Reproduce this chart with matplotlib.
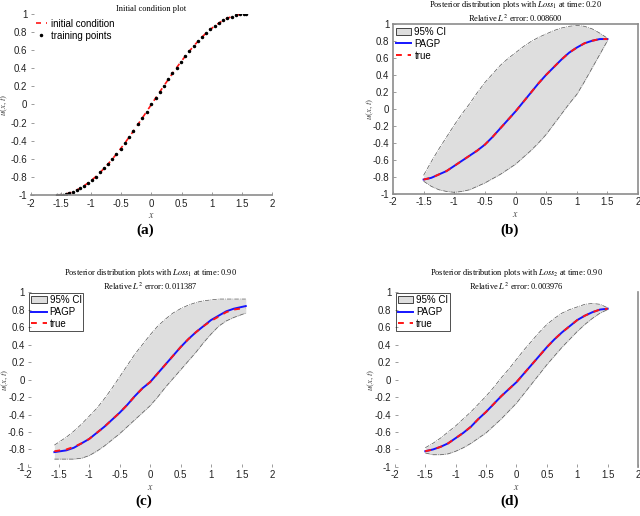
import matplotlib
matplotlib.use("Agg")
import matplotlib.pyplot as plt
from matplotlib.patches import Patch
from matplotlib.lines import Line2D
from matplotlib.ticker import MultipleLocator, FuncFormatter

plt.rcParams['font.family'] = ['Liberation Sans', 'DejaVu Sans']
plt.rcParams['mathtext.fontset'] = 'stix'

# (a) initial condition and training points
x_init = [-1.57, -1.52, -1.47, -1.42, -1.36, -1.30, -1.24, -1.18, -1.12, -1.05,
          -0.98, -0.92, -0.85, -0.78, -0.72, -0.65, -0.58, -0.51, -0.44, -0.37,
          -0.30, -0.22, -0.15, -0.08, 0.00, 0.07, 0.14, 0.21, 0.28, 0.35,
          0.42, 0.49, 0.56, 0.63, 0.70, 0.77, 0.84, 0.91, 0.98, 1.05,
          1.12, 1.19, 1.26, 1.33, 1.40, 1.47, 1.53, 1.57]
u_init = [-1.000, -0.999, -0.995, -0.989, -0.978, -0.964, -0.946, -0.925, -0.900, -0.867,
          -0.830, -0.796, -0.751, -0.703, -0.659, -0.605, -0.548, -0.488, -0.426, -0.362,
          -0.296, -0.218, -0.149, -0.080, 0.000, 0.070, 0.140, 0.208, 0.276, 0.343,
          0.408, 0.471, 0.531, 0.589, 0.644, 0.696, 0.745, 0.790, 0.830, 0.867,
          0.900, 0.928, 0.952, 0.971, 0.985, 0.995, 0.999, 1.000]

# (b) Loss_1, t = 0.20
x_b = [-1.5, -1.375, -1.25, -1.125, -1.0, -0.875, -0.75, -0.625, -0.5, -0.375, -0.25, -0.125,
       0.0, 0.125, 0.25, 0.375, 0.5, 0.625, 0.75, 0.875, 1.0, 1.125, 1.25, 1.375, 1.5]
mean_b = [-0.83, -0.81, -0.77, -0.73, -0.67, -0.61, -0.55, -0.49, -0.42, -0.33, -0.23, -0.13,
          -0.03, 0.08, 0.19, 0.30, 0.40, 0.49, 0.58, 0.66, 0.72, 0.77, 0.80, 0.82, 0.82]
upper_b = [-0.78, -0.62, -0.47, -0.33, -0.19, -0.06, 0.06, 0.19, 0.31, 0.41, 0.51, 0.59,
           0.66, 0.73, 0.79, 0.84, 0.88, 0.92, 0.95, 0.97, 0.98, 0.97, 0.94, 0.89, 0.83]
lower_b = [-0.85, -0.91, -0.95, -0.97, -0.98, -0.97, -0.95, -0.91, -0.87, -0.82, -0.77, -0.71,
           -0.65, -0.57, -0.49, -0.40, -0.30, -0.18, -0.06, 0.06, 0.17, 0.32, 0.48, 0.64, 0.80]

# (c) Loss_1, t = 0.90
x_c = [-1.57, -1.375, -1.25, -1.125, -1.0, -0.875, -0.75, -0.625, -0.5, -0.375, -0.25, -0.125,
       0.0, 0.125, 0.25, 0.375, 0.5, 0.625, 0.75, 0.875, 1.0, 1.125, 1.25, 1.375, 1.57]
mean_c = [-0.83, -0.81, -0.78, -0.73, -0.68, -0.61, -0.54, -0.46, -0.38, -0.29, -0.19, -0.10,
          -0.03, 0.07, 0.17, 0.27, 0.37, 0.46, 0.54, 0.61, 0.68, 0.73, 0.78, 0.81, 0.84]
true_c = [-0.82, -0.80, -0.77, -0.73, -0.68, -0.61, -0.54, -0.46, -0.38, -0.29, -0.19, -0.10,
          -0.03, 0.07, 0.17, 0.27, 0.37, 0.46, 0.54, 0.61, 0.67, 0.72, 0.77, 0.80, 0.82]
upper_c = [-0.75, -0.66, -0.59, -0.51, -0.42, -0.33, -0.22, -0.10, 0.03, 0.16, 0.29, 0.40,
           0.51, 0.61, 0.69, 0.76, 0.81, 0.85, 0.88, 0.90, 0.91, 0.92, 0.92, 0.92, 0.92]
lower_c = [-0.91, -0.91, -0.91, -0.90, -0.87, -0.82, -0.76, -0.69, -0.62, -0.54, -0.46, -0.38,
           -0.30, -0.20, -0.09, 0.01, 0.11, 0.21, 0.31, 0.42, 0.52, 0.61, 0.67, 0.71, 0.76]

# (d) Loss_2, t = 0.90
x_d = x_b
mean_d = [-0.82, -0.80, -0.77, -0.73, -0.67, -0.61, -0.54, -0.45, -0.37, -0.28, -0.19, -0.11,
          -0.03, 0.07, 0.17, 0.27, 0.37, 0.46, 0.54, 0.61, 0.68, 0.73, 0.77, 0.80, 0.81]
upper_d = [-0.78, -0.73, -0.67, -0.60, -0.53, -0.45, -0.37, -0.28, -0.19, -0.09, 0.02, 0.12,
           0.23, 0.34, 0.44, 0.54, 0.63, 0.70, 0.76, 0.80, 0.83, 0.86, 0.87, 0.86, 0.82]
lower_d = [-0.84, -0.86, -0.86, -0.85, -0.82, -0.78, -0.73, -0.67, -0.61, -0.53, -0.45, -0.36,
           -0.27, -0.16, -0.05, 0.06, 0.17, 0.27, 0.37, 0.46, 0.55, 0.63, 0.70, 0.76, 0.80]

titles = {
    'a': "Initial condition plot",
    'b': "Posterior distribution plots with $Loss_1$ at time: 0.20\nRelative $L^2$ error: 0.008600",
    'c': "Posterior distribution plots with $Loss_1$ at time: 0.90\nRelative $L^2$ error: 0.011387",
    'd': "Posterior distribution plots with $Loss_2$ at time: 0.90\nRelative $L^2$ error: 0.003976",
}

SERIF = ['Liberation Serif', 'DejaVu Serif']
GRAY = '#8c8c8c'


def tick_fmt(v, pos):
    return f'{round(v, 2):g}' if abs(v) > 1e-9 else '0'


def style_axes(ax, spines, ylab_x):
    ax.set_xlim(-2, 2)
    ax.set_ylim(-1, 1)
    ax.xaxis.set_major_locator(MultipleLocator(0.5))
    ax.yaxis.set_major_locator(MultipleLocator(0.2))
    ax.xaxis.set_major_formatter(FuncFormatter(tick_fmt))
    ax.yaxis.set_major_formatter(FuncFormatter(tick_fmt))
    ax.tick_params(direction='in', length=2, width=0.6, color=GRAY,
                   labelsize=7, labelcolor='#222222', pad=2.5)
    for side, sp in ax.spines.items():
        sp.set_visible(side in spines)
        sp.set_color(GRAY)
        sp.set_linewidth(1.2)
    ax.set_xlabel('$x$', fontsize=7, labelpad=1, color='#444444')
    ax.set_ylabel('$u(x,t)$', fontsize=6.5, color='#444444')
    ax.yaxis.set_label_coords(ylab_x, 0.5)


def posterior_plot(ax, x, mean, true, upper, lower, title, framed):
    ax.fill_between(x, lower, upper, color='#dedede', lw=0)
    ax.plot(x, upper, color='#555555', ls='-.', lw=0.5)
    ax.plot(x, lower, color='#555555', ls='-.', lw=0.5)
    ax.plot(x, mean, color='#1515ff', lw=1.4)
    ax.plot(x, true, color='#ff1515', ls=(0, (3, 3)), lw=1.4)
    ax.set_title(title, fontsize=6, family=SERIF, pad=1, linespacing=1.15)
    handles = [Patch(facecolor='#dedede', edgecolor='black', lw=0.5),
               Line2D([], [], color='#1515ff', lw=1.4),
               Line2D([], [], color='#ff1515', ls=(0, (3, 3)), lw=1.4)]
    leg = ax.legend(handles, ['95% CI', 'PAGP', 'true'], loc='upper left', fontsize=7,
                    frameon=framed, fancybox=False, borderaxespad=0.1,
                    handlelength=1.6, handletextpad=0.3, labelspacing=0.2, borderpad=0.2)
    if framed:
        leg.get_frame().set_edgecolor('black')
        leg.get_frame().set_linewidth(0.6)
        leg.get_frame().set_facecolor('none')


fig = plt.figure(figsize=(6.4, 5.16), dpi=100)

ax_a = fig.add_axes([0.048, 0.622, 0.377, 0.351])
ax_b = fig.add_axes([0.614, 0.624, 0.383, 0.330])
ax_c = fig.add_axes([0.044, 0.095, 0.381, 0.339])
ax_d = fig.add_axes([0.617, 0.095, 0.380, 0.339])

# (a)
ax_a.plot(x_init, u_init, color='#ff1515', ls=(0, (3, 3)), lw=1.2, label='initial condition')
ax_a.plot(x_init, u_init, ls='none', marker='.', ms=3, color='black', label='training points')
ax_a.set_title(titles['a'], fontsize=6, family=SERIF, pad=2)
ax_a.legend(loc='upper left', fontsize=7, frameon=False, borderaxespad=0.1,
            handlelength=1.2, handletextpad=0.4, labelspacing=0.2)
style_axes(ax_a, ['bottom'], -0.085)

posterior_plot(ax_b, x_b, mean_b, mean_b, upper_b, lower_b, titles['b'], False)
style_axes(ax_b, ['bottom', 'top', 'left', 'right'], -0.068)

posterior_plot(ax_c, x_c, mean_c, true_c, upper_c, lower_c, titles['c'], True)
style_axes(ax_c, [], -0.072)

posterior_plot(ax_d, x_d, mean_d, mean_d, upper_d, lower_d, titles['d'], True)
style_axes(ax_d, ['right'], -0.075)

for label, ax in zip('abcd', [ax_a, ax_b, ax_c, ax_d]):
    pos = ax.get_position()
    ycap = 0.54 if label in 'ab' else 0.015
    fig.text((pos.x0 + pos.x1) / 2 - 0.01, ycap, f'({label})', ha='center', va='bottom',
             fontsize=11, fontweight='bold', family=SERIF)

fig.savefig('out.png', dpi=100)
